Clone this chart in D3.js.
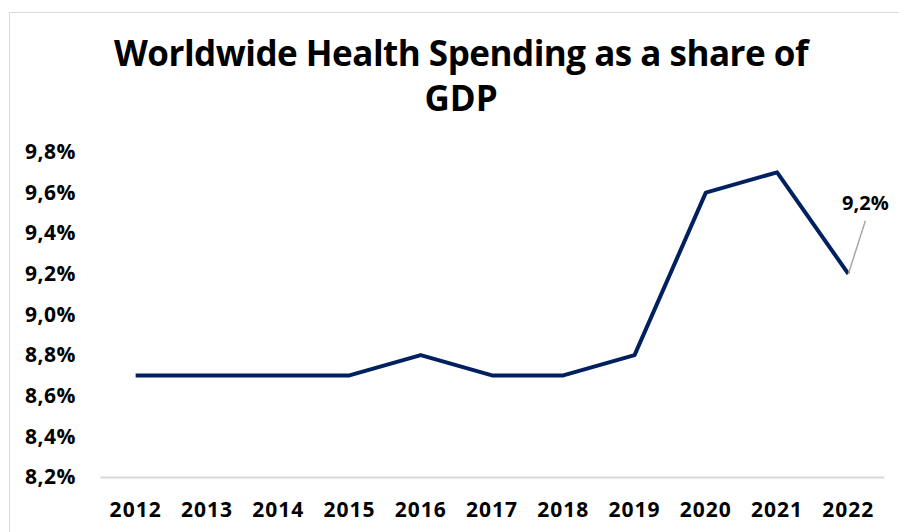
<!DOCTYPE html>
<html>
<head>
<meta charset="utf-8">
<script src="https://d3js.org/d3.v7.min.js"></script>
<style>
  body { margin: 0; background: #fff; }
  text { font-family: "Open Sans", "Noto Sans", sans-serif; font-weight: bold; fill: #000; }
  .domain { stroke: #d9d9d9; stroke-width: 2px; }
</style>
</head>
<body>
<svg id="chart" width="899" height="532"></svg>
<script>
const years = ['2012','2013','2014','2015','2016','2017','2018','2019','2020','2021','2022'];
const share = [8.7, 8.7, 8.7, 8.7, 8.8, 8.7, 8.7, 8.8, 9.6, 9.7, 9.2];
const yTicks = [8.2, 8.4, 8.6, 8.8, 9.0, 9.2, 9.4, 9.6, 9.8];

const svg = d3.select('#chart');

// chart frame
svg.append('rect')
  .attr('x', 9.5).attr('y', 12.5)
  .attr('width', 900).attr('height', 530)
  .attr('fill', '#fff')
  .attr('stroke', '#d9d9d9');

svg.append('text')
  .attr('x', 461).attr('y', 66)
  .attr('text-anchor', 'middle')
  .style('font-size', '35px')
  .style('letter-spacing', '-0.5px')
  .text('Worldwide Health Spending as a share of');
svg.append('text')
  .attr('x', 461).attr('y', 111)
  .attr('text-anchor', 'middle')
  .style('font-size', '35px')
  .text('GDP');

const x = d3.scaleBand().domain(years).range([100, 884]);
const y = d3.scaleLinear().domain([8.2, 9.8]).range([477, 152]);

const fmt = d => d.toFixed(1).replace('.', ',') + '%';

svg.append('g')
  .attr('transform', 'translate(0,477)')
  .call(d3.axisBottom(x).tickSize(0).tickPadding(25))
  .call(g => g.selectAll('text').style('font-size', '21px').style('letter-spacing', '1px'));

svg.append('g')
  .attr('transform', 'translate(76,0)')
  .call(d3.axisLeft(y).tickValues(yTicks).tickFormat(fmt).tickSize(0).tickPadding(0))
  .call(g => g.select('.domain').remove())
  .call(g => g.selectAll('text').style('font-size', '21px').style('letter-spacing', '0.5px'));

const line = d3.line()
  .x((d, i) => x(years[i]) + x.bandwidth() / 2)
  .y(d => y(d));

svg.append('path')
  .datum(share)
  .attr('d', line)
  .attr('fill', 'none')
  .attr('stroke', '#002060')
  .attr('stroke-width', 4)
  .attr('stroke-linejoin', 'round');

// data label for last point
const lx = x(years[10]) + x.bandwidth() / 2;
const ly = y(share[10]);
svg.append('line')
  .attr('x1', lx).attr('y1', ly)
  .attr('x2', lx + 17).attr('y2', ly - 53)
  .attr('stroke', '#a6a6a6')
  .attr('stroke-width', 1.5);
svg.append('text')
  .attr('x', lx + 17).attr('y', ly - 64)
  .attr('text-anchor', 'middle')
  .style('font-size', '20px')
  .text(fmt(share[10]));
</script>
</body>
</html>
